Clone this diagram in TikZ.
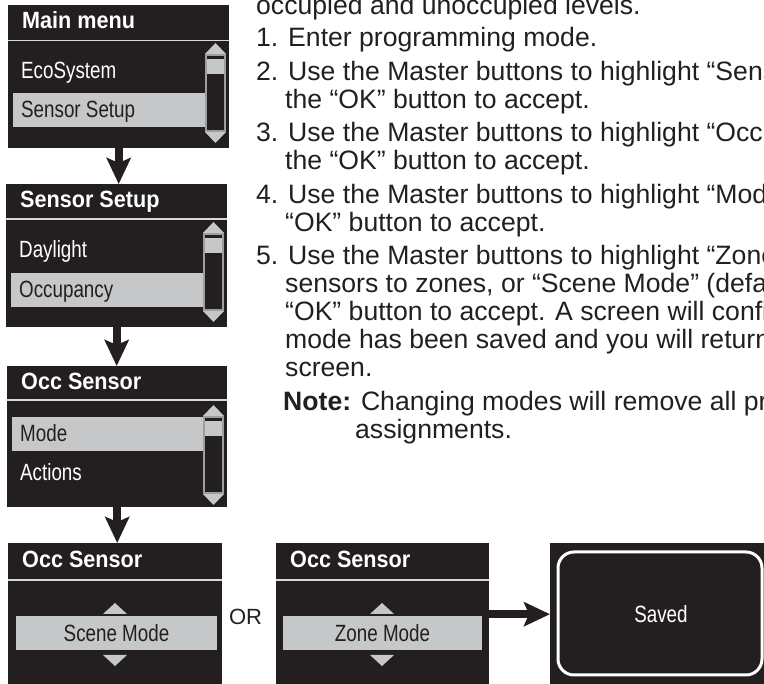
\documentclass[tikz,border=0pt]{standalone}
\usepackage{fontspec}
\setmainfont{Liberation Sans}
\newfontfamily\lcdfont[FakeStretch=0.8]{Liberation Sans}
\newfontfamily\lcdbold[FakeStretch=0.92]{Liberation Sans}
\usetikzlibrary{arrows.meta}

\definecolor{ink}{HTML}{231F20}
\definecolor{lcdgray}{HTML}{C5C7C9}
\definecolor{rimgray}{HTML}{9C9EA0}
\definecolor{sepgray}{HTML}{D9D9D9}

\tikzset{
	screen/.style={fill=ink, draw=none, inner sep=0pt, anchor=north west},
	title/.style={anchor=base west, inner sep=0pt, text=white, font=\lcdbold\bfseries\fontsize{23.5}{24}\selectfont},
	item/.style={anchor=base west, inner sep=0pt, text=white, font=\lcdfont\fontsize{23.5}{24}\selectfont},
	picked/.style={item, text=ink},
	sep/.style={draw=sepgray, line width=1.5pt},
	rim/.style={draw=rimgray, line width=1.2pt},
	body/.style={anchor=base west, inner sep=0pt, text=ink, font=\fontsize{26.6}{28}\selectfont},
	flow/.style={draw=ink, line width=8pt, -{Stealth[length=26pt,width=24pt,inset=5pt]}},
	scrollbar/.pic={
		\fill[lcdgray] (-1,-1) -- (20,-1) -- (9.5,-12) -- cycle;
		\fill[lcdgray] (-1,77) -- (20,77) -- (9.5,88) -- cycle;
		\fill[lcdgray] (0.6,4) rectangle (18.4,19);
		\draw[rim] (0,0) rectangle (19,76);
	},
}

\begin{document}
\begin{tikzpicture}[x=1pt, y=-1pt]
	\useasboundingbox (0,0) rectangle (764,684);
	\clip (0,0) rectangle (764,684);
	
	% 1. 主菜单屏幕
	\begin{scope}[shift={(8,5)}]
		\node[screen, minimum width=221pt, minimum height=143pt] (mainmenu) at (0,0) {};
		\draw[sep] (0,35.5) -- (221,35.5);
		\fill[lcdgray] (5,88) rectangle (198,122);
		\node[title] (mainmenutitle) at (14,24) {Main menu};
		\node[item] (ecosystem) at (13,74) {EcoSystem};
		\node[picked] (sensorsetupitem) at (13,113) {Sensor Setup};
		\pic at (198,50) {scrollbar};
	\end{scope}
	
	% 2. Sensor Setup 屏幕
	\begin{scope}[shift={(6,184)}]
		\node[screen, minimum width=221pt, minimum height=143pt] (sensorscr) at (0,0) {};
		\draw[sep] (0,35) -- (221,35);
		\fill[lcdgray] (5,89) rectangle (198,123);
		\node[title] (sensortitle) at (14,24) {Sensor Setup};
		\node[item] (daylight) at (13,74) {Daylight};
		\node[picked] (occupancy) at (13,114) {Occupancy};
		\pic at (198,50) {scrollbar};
	\end{scope}
	
	% 3. Occ Sensor 屏幕（列表）
	\begin{scope}[shift={(7,366)}]
		\node[screen, minimum width=220pt, minimum height=141pt] (occscr) at (0,0) {};
		\draw[sep] (0,34) -- (220,34);
		\fill[lcdgray] (5,51) rectangle (197,85);
		\node[title] (occtitle) at (14,24) {Occ Sensor};
		\node[picked] (modeitem) at (13,76) {Mode};
		\node[item] (actions) at (13,115) {Actions};
		\pic at (197,51) {scrollbar};
	\end{scope}
	
	% 4. 底部两个模式屏幕
	\begin{scope}[shift={(8,543)}]
		\node[screen, minimum width=214pt, minimum height=142pt] (scenescr) at (0,0) {};
		\draw[sep] (0,37) -- (214,37);
		\node[title] (scenetitle) at (14,25) {Occ Sensor};
		\fill[lcdgray] (95,71) -- (119,71) -- (107,60) -- cycle;
		\fill[lcdgray] (8,73) rectangle (209,107);
		\fill[lcdgray] (95,112) -- (119,112) -- (107,123) -- cycle;
		\node[picked, anchor=base] (scenemode) at (108.5,98.5) {Scene Mode};
	\end{scope}
	
	\node[body, anchor=center, font=\fontsize{22}{24}\selectfont] (ortext) at (245.5,617) {OR};
	
	\begin{scope}[shift={(276,543)}]
		\node[screen, minimum width=213pt, minimum height=142pt] (zonescr) at (0,0) {};
		\draw[sep] (0,37) -- (213,37);
		\node[title] (zonetitle) at (14,25) {Occ Sensor};
		\fill[lcdgray] (94,71) -- (118,71) -- (106,60) -- cycle;
		\fill[lcdgray] (7,73) rectangle (206,107);
		\fill[lcdgray] (94,112) -- (118,112) -- (106,123) -- cycle;
		\node[picked, anchor=base] (zonemode) at (106.5,98.5) {Zone Mode};
	\end{scope}
	
	% 5. Saved 屏幕
	\begin{scope}[shift={(550,543)}]
		\node[screen, minimum width=230pt, minimum height=142pt] (savedscr) at (0,0) {};
		\draw[white, line width=3pt, rounded corners=16pt] (8,9) rectangle (212,132);
		\node[item, anchor=center] (saved) at (111,71) {Saved};
	\end{scope}
	
	% 6. 箭头
	\draw[flow] (mainmenu.south) -- (mainmenu.south |- sensorscr.north);
	\draw[flow] (sensorscr.south) -- (sensorscr.south |- occscr.north);
	\draw[flow] (occscr.south) -- (occscr.south |- scenescr.north);
	\draw[flow] (zonescr.east) -- (savedscr.west);
	
	% 7. 右侧说明文字
	\node[body] (levels) at (256,15) {occupied and unoccupied levels.};
	\node[body] (stepone) at (256,47) {1. Enter programming mode.};
	\node[body] (steptwo) at (256,80.5) {2. Use the Master buttons to highlight “Sensor};
	\node[body] (steptwob) at (285,108.5) {the “OK” button to accept.};
	\node[body] (stepthree) at (256,142) {3. Use the Master buttons to highlight “Occupancy};
	\node[body] (stepthreeb) at (285,170) {the “OK” button to accept.};
	\node[body] (stepfour) at (256,203.5) {4. Use the Master buttons to highlight “Mode};
	\node[body] (stepfourb) at (285,231.5) {“OK” button to accept.};
	\node[body] (stepfive) at (256,265) {5. Use the Master buttons to highlight “Zone};
	\node[body] (stepfiveb) at (285,293) {sensors to zones, or “Scene Mode” (default};
	\node[body] (stepfivec) at (285,321) {“OK” button to accept. A screen will confirm};
	\node[body] (stepfived) at (285,349) {mode has been saved and you will return};
	\node[body] (stepfivee) at (285,377) {screen.};
	\node[body] (note) at (283,410.5) {\textbf{Note:} Changing modes will remove all previous};
	\node[body] (noteb) at (355,438.5) {assignments.};
	
\end{tikzpicture}
\end{document}
